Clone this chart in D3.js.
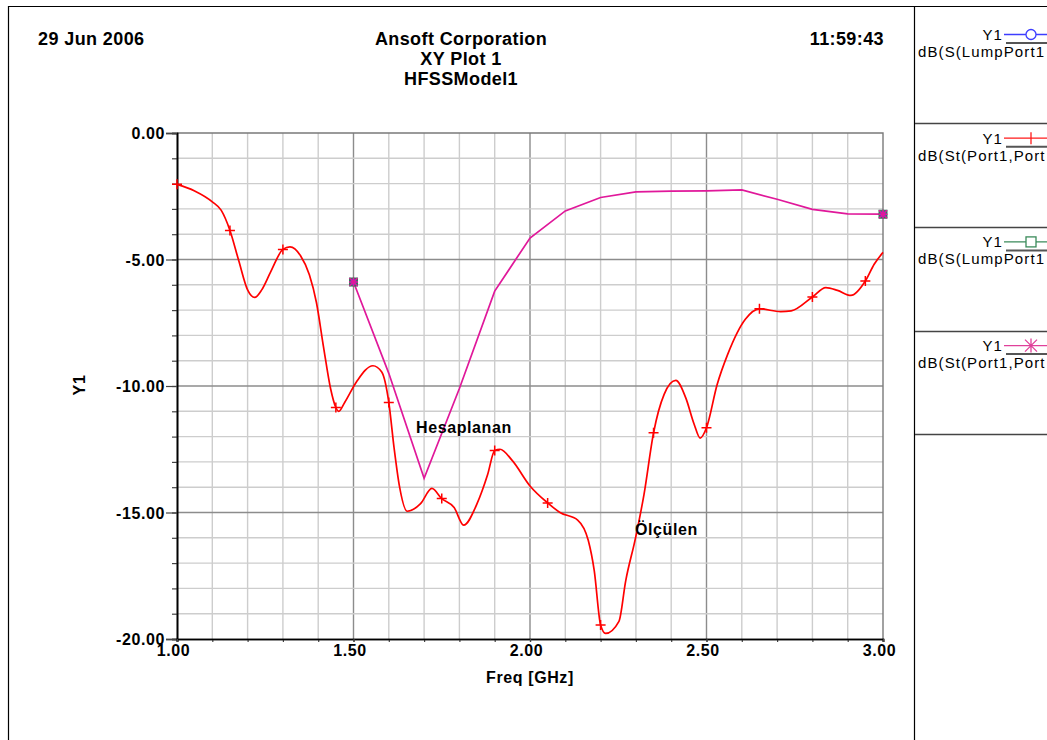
<!DOCTYPE html>
<meta charset="utf-8">
<html>
<head>
<script src="https://d3js.org/d3.v7.min.js"></script>
<style>
  body { margin: 0; background: #fff; }
  text { font-family: Arial, "Liberation Sans", sans-serif; }
  .lbl { font-weight: bold; font-size: 16px; letter-spacing: 0.6px; fill: #000; }
  .hdr { font-weight: bold; font-size: 18px; letter-spacing: 0.4px; fill: #000; }
  .leg { font-size: 15px; letter-spacing: 1.1px; fill: #000; }
</style>
</head>
<body>
<div id="my_dataviz"></div>
<script>

// measured curve (Ölçülen)
var measFreq = [1.000, 1.050, 1.100, 1.125, 1.150, 1.175, 1.200, 1.220, 1.240, 1.265, 1.300, 1.320,
                1.350, 1.375, 1.395, 1.415, 1.435, 1.450, 1.458, 1.475, 1.510, 1.555, 1.580, 1.600,
                1.615, 1.630, 1.652, 1.690, 1.722, 1.750, 1.785, 1.812, 1.850, 1.880, 1.900, 1.915,
                1.950, 2.000, 2.050, 2.085, 2.135, 2.165, 2.182, 2.200, 2.214, 2.252, 2.271, 2.299,
                2.323, 2.350, 2.380, 2.413, 2.441, 2.465, 2.482, 2.500, 2.530, 2.560, 2.610, 2.650,
                2.710, 2.740, 2.800, 2.838, 2.871, 2.909, 2.950, 2.975, 3.000];
var measDb = [-2.03, -2.29, -2.72, -3.05, -3.85, -5.05, -6.20, -6.50, -6.20, -5.50, -4.60, -4.50,
              -4.85, -5.60, -6.70, -8.45, -10.10, -10.85, -11.00, -10.65, -9.80, -9.20, -9.45, -10.65,
              -12.45, -13.95, -14.95, -14.65, -14.05, -14.45, -14.80, -15.50, -14.65, -13.50, -12.55, -12.50,
              -12.95, -13.95, -14.62, -15.00, -15.30, -16.10, -17.30, -19.45, -19.78, -19.30, -17.71, -16.00,
              -14.28, -11.85, -10.33, -9.78, -10.46, -11.51, -12.06, -11.65, -9.95, -8.75, -7.36, -6.95,
              -7.06, -7.03, -6.48, -6.11, -6.22, -6.42, -5.85, -5.19, -4.72];
var measMarkerFreq = [1.00, 1.15, 1.30, 1.45, 1.60, 1.75, 1.90, 2.05, 2.20, 2.35, 2.50, 2.65, 2.80, 2.95];

// simulated curve (Hesaplanan)
var simFreq = [1.5, 1.6, 1.7, 1.8, 1.9, 2.0, 2.1, 2.2, 2.3, 2.4, 2.5, 2.6, 2.7, 2.8, 2.9, 3.0];
var simDb = [-5.89, -9.50, -13.65, -10.10, -6.25, -4.15, -3.08, -2.55, -2.33, -2.30, -2.29, -2.25, -2.62, -3.02, -3.20, -3.21];

var xTicks = [1.0, 1.5, 2.0, 2.5, 3.0];
var yTicks = [0, -5, -10, -15, -20];
var headerCenter = ["Ansoft Corporation", "XY Plot 1", "HFSSModel1"];
// legend expressions as far as they are visible in the panel
var legendItems = [
  { name: "Y1", expr: "dB(S(LumpPort1", color: "#3d3dff", mark: "circle" },
  { name: "Y1", expr: "dB(St(Port1,Port", color: "#ff1a1a", mark: "plus" },
  { name: "Y1", expr: "dB(S(LumpPort1", color: "#3a8a5a", mark: "square" },
  { name: "Y1", expr: "dB(St(Port1,Port", color: "#e0409a", mark: "star" }
];

var W = 1047, H = 740;
var svg = d3.select("#my_dataviz").append("svg")
    .attr("width", W).attr("height", H);

svg.append("rect").attr("width", W).attr("height", H).attr("fill", "#fff");

// outer frame + legend panel
svg.append("path").attr("d", "M8.5," + H + "V6.5H" + W).attr("fill", "none").attr("stroke", "#000").attr("stroke-width", 1.2);
svg.append("line").attr("x1", 914.5).attr("x2", 914.5).attr("y1", 6).attr("y2", H).attr("stroke", "#000").attr("stroke-width", 1.2);

var x = d3.scaleLinear().domain([1, 3]).range([177, 883]);
var y = d3.scaleLinear().domain([-20, 0]).range([639, 133]);

// grid
var g = svg.append("g");
g.selectAll(".vg").data(d3.range(11, 30)).enter().append("line")
    .attr("x1", function (d) { return x(d / 10) }).attr("x2", function (d) { return x(d / 10) })
    .attr("y1", y(0)).attr("y2", y(-20))
    .attr("stroke", function (d) { return d % 5 == 0 ? "#8c8c8c" : "#cdcdcd" })
    .attr("stroke-width", 1.4);
g.selectAll(".hg").data(d3.range(-19, 0)).enter().append("line")
    .attr("y1", function (d) { return y(d) }).attr("y2", function (d) { return y(d) })
    .attr("x1", x(1)).attr("x2", x(3))
    .attr("stroke", function (d) { return d % 5 == 0 ? "#8c8c8c" : "#cdcdcd" })
    .attr("stroke-width", 1.4);
// top & right frame of plot
svg.append("path").attr("d", "M" + x(1) + "," + y(0) + "H" + x(3) + "V" + y(-20))
    .attr("fill", "none").attr("stroke", "#7a7a7a").attr("stroke-width", 1.4);

// axes
var yMinor = svg.append("g").attr("transform", "translate(" + x(1) + ",0)")
    .call(d3.axisLeft(y).tickValues(d3.range(-20, 1)).tickSize(5).tickFormat(""));
var yAx = svg.append("g").attr("transform", "translate(" + x(1) + ",0)")
    .call(d3.axisLeft(y).tickValues(yTicks).tickSize(11).tickPadding(1)
        .tickFormat(function (d) { return d.toFixed(2) }));
var xMinor = svg.append("g").attr("transform", "translate(0," + y(-20) + ")")
    .call(d3.axisBottom(x).tickValues(d3.range(10, 31).map(function (d) { return d / 10 })).tickSize(3).tickFormat(""));
var xAx = svg.append("g").attr("transform", "translate(0," + y(-20) + ")")
    .call(d3.axisBottom(x).tickValues(xTicks).tickSize(3).tickPadding(2)
        .tickFormat(function (d) { return d.toFixed(2) }));
[yMinor, yAx, xMinor, xAx].forEach(function (a) {
  a.select(".domain").attr("stroke", "#000").attr("stroke-width", 1.6);
  a.selectAll(".tick line").attr("stroke", "#444").attr("stroke-width", 1.2);
});
yAx.selectAll(".tick text").attr("class", "lbl").attr("font-size", null).attr("font-family", null).attr("dy", "0.36em");
xAx.selectAll(".tick text").attr("class", "lbl").attr("font-size", null).attr("font-family", null).attr("dx", -4).attr("dy", "0.72em");

// axis titles
svg.append("text").attr("class", "lbl").attr("x", 530).attr("y", 683).attr("text-anchor", "middle").text("Freq [GHz]");
svg.append("text").attr("class", "lbl").attr("transform", "translate(85,385) rotate(-90)").attr("text-anchor", "middle").text("Y1");

// header
svg.append("text").attr("class", "hdr").attr("x", 38).attr("y", 45).text("29 Jun 2006");
svg.append("text").attr("class", "hdr").attr("x", 884).attr("y", 45).attr("text-anchor", "end").text("11:59:43");
svg.selectAll(".hc").data(headerCenter).enter().append("text").attr("class", "hdr")
    .attr("x", 461).attr("y", function (d, i) { return 45 + i * 20 }).attr("text-anchor", "middle")
    .text(function (d) { return d });

// curves
var meas = measFreq.map(function (f, i) { return { f: f, v: measDb[i] } });
var sim = simFreq.map(function (f, i) { return { f: f, v: simDb[i] } });

var smooth = d3.line().x(function (d) { return x(d.f) }).y(function (d) { return y(d.v) }).curve(d3.curveMonotoneX);
var straight = d3.line().x(function (d) { return x(d.f) }).y(function (d) { return y(d.v) });

svg.append("path").attr("d", smooth(meas)).attr("fill", "none").attr("stroke", "#ff0000").attr("stroke-width", 1.7);
svg.append("path").attr("d", straight(sim)).attr("fill", "none").attr("stroke", "#e0189a").attr("stroke-width", 1.7);

// red + markers
var mk = meas.filter(function (d) { return measMarkerFreq.some(function (m) { return Math.abs(m - d.f) < 1e-6 }) });
svg.selectAll(".pm").data(mk).enter().append("path")
    .attr("d", function (d) { var cx = x(d.f), cy = y(d.v); return "M" + (cx - 5) + "," + cy + "H" + (cx + 5) + "M" + cx + "," + (cy - 5) + "V" + (cy + 5) })
    .attr("stroke", "#ff0000").attr("stroke-width", 1.5);

// overlapping end markers of the simulated traces
var ends = [sim[0], sim[sim.length - 1]];
var eg = svg.selectAll(".em").data(ends).enter().append("g")
    .attr("transform", function (d) { return "translate(" + x(d.f) + "," + y(d.v) + ")" });
eg.append("rect").attr("x", -4).attr("y", -4).attr("width", 8).attr("height", 8).attr("fill", "#2e7d5a").attr("stroke", "#2e7d5a");
eg.append("circle").attr("r", 3).attr("fill", "#3d3dff");
eg.append("path").attr("d", "M-4,-4L4,4M4,-4L-4,4M0,-4.5V4.5M-4.5,0H4.5").attr("stroke", "#e0189a").attr("stroke-width", 1.6);

// annotations
svg.append("text").attr("class", "lbl").attr("x", 416).attr("y", 433).text("Hesaplanan");
svg.append("text").attr("class", "lbl").attr("x", 635).attr("y", 535).text("Ölçülen");

// legend
var lg = svg.selectAll(".lg").data(legendItems).enter().append("g")
    .attr("transform", function (d, i) { return "translate(0," + (i * 103.7) + ")" });
lg.append("text").attr("class", "leg").attr("x", 1003).attr("y", 40).attr("text-anchor", "end").text(function (d) { return d.name });
lg.append("text").attr("class", "leg").attr("x", 918).attr("y", 57).text(function (d) { return d.expr });
lg.append("line").attr("x1", 1004).attr("x2", W).attr("y1", 34.5).attr("y2", 34.5)
    .attr("stroke", function (d) { return d.color }).attr("stroke-width", 1.3);
lg.append("line").attr("x1", 1006).attr("x2", W).attr("y1", 43).attr("y2", 43).attr("stroke", "#555").attr("stroke-width", 2);
lg.each(function (d) {
  var s = d3.select(this), cx = 1031, cy = 34.5;
  if (d.mark == "circle") s.append("circle").attr("cx", cx).attr("cy", cy).attr("r", 5).attr("fill", "#fff").attr("stroke", d.color).attr("stroke-width", 1.3);
  if (d.mark == "square") s.append("rect").attr("x", cx - 5).attr("y", cy - 5).attr("width", 10).attr("height", 10).attr("fill", "#fff").attr("stroke", d.color).attr("stroke-width", 1.3);
  if (d.mark == "plus") s.append("path").attr("d", "M" + cx + "," + (cy - 6) + "V" + (cy + 6)).attr("stroke", d.color).attr("stroke-width", 1.3);
  if (d.mark == "star") s.append("path").attr("d", "M" + (cx - 6) + "," + (cy - 6) + "L" + (cx + 6) + "," + (cy + 6) + "M" + (cx + 6) + "," + (cy - 6) + "L" + (cx - 6) + "," + (cy + 6) + "M" + cx + "," + (cy - 7) + "V" + (cy + 7)).attr("stroke", d.color).attr("stroke-width", 1.3);
});
svg.selectAll(".sep").data([123.5, 227.5, 331.5, 434.5]).enter().append("line")
    .attr("x1", 915).attr("x2", W).attr("y1", function (d) { return d }).attr("y2", function (d) { return d })
    .attr("stroke", "#444").attr("stroke-width", 1.4);

</script>
</body>
</html>
